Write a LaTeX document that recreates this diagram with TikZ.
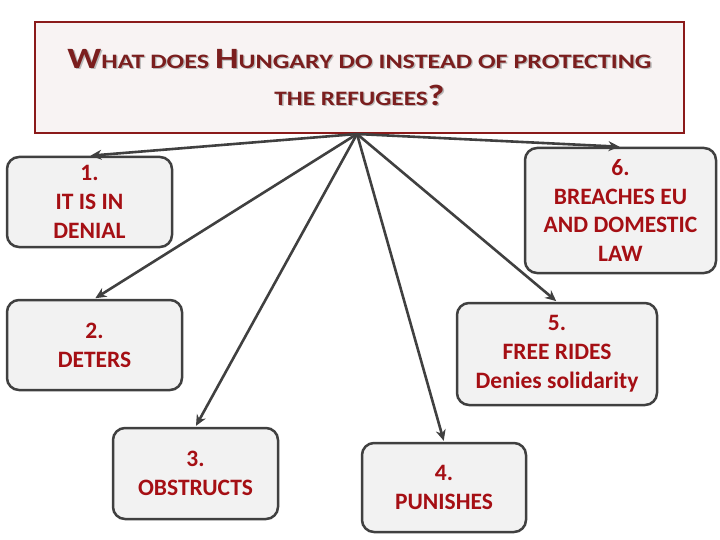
\documentclass[tikz,border=0pt]{standalone}
\usepackage{fontspec}
\setmainfont{Carlito}
\usetikzlibrary{arrows.meta}
\definecolor{boxtext}{HTML}{A50F14}
\definecolor{titletext}{HTML}{7B1E1E}
\definecolor{titleborder}{HTML}{8B1A1A}
\definecolor{titlefill}{HTML}{F8F3F3}
\definecolor{boxfill}{HTML}{F2F2F2}
\definecolor{boxline}{HTML}{404040}
\newcommand{\BigCap}[1]{{\fontsize{29.5}{37}\selectfont #1}}
\newcommand{\SmCap}[1]{{\fontsize{20.5}{37}\selectfont #1}}
\newcommand{\TitleText}{\scalebox{1.27}[1]{\BigCap{W}\SmCap{HAT DOES} \BigCap{H}\SmCap{UNGARY DO INSTEAD OF PROTECTING}}\\ \scalebox{1.23}[1]{\SmCap{THE REFUGEES}\BigCap{?}}}
\tikzset{
  x=1pt,y=1pt,
  itembox/.style={draw=boxline, line width=2.5pt, fill=boxfill, rounded corners=12pt,
    align=center, text=boxtext, font=\fontsize{23.5}{28.8}\selectfont\bfseries, inner sep=0pt},
  conn/.style={draw=boxline, line width=2.6pt, -{Stealth[length=11pt,width=10pt]}, shorten >=1pt},
  titletxt/.style={align=center, inner sep=0pt, font=\bfseries\fontsize{20.5}{37}\selectfont}
}
\begin{document}
\begin{tikzpicture}
\useasboundingbox (0,0) rectangle (720,-540);
\node[draw=titleborder, line width=1.5pt, fill=titlefill, minimum width=649pt, minimum height=111pt, inner sep=0pt] (title) at (359.5,-77.5) {};
\node[titletxt, text=gray!55] at (360.8,-78.8) {\TitleText};
\node[titletxt, text=titletext] (ttext) at (359.5,-77.5) {\TitleText};
\coordinate (src) at (357,-134);
\node[itembox, minimum width=165pt, minimum height=90pt] (b1) at (89.5,-202) {1.\\IT IS IN\\DENIAL};
\node[itembox, minimum width=191pt, minimum height=125pt] (b6) at (620.5,-210.5) {6.\\BREACHES EU\\AND DOMESTIC\\LAW};
\node[itembox, minimum width=175pt, minimum height=90pt] (b2) at (94.5,-345) {2.\\DETERS};
\node[itembox, minimum width=200pt, minimum height=102pt] (b5) at (557,-354) {5.\\FREE RIDES\\Denies solidarity};
\node[itembox, minimum width=165pt, minimum height=91pt] (b3) at (195.5,-473.5) {3.\\OBSTRUCTS};
\node[itembox, minimum width=164pt, minimum height=89pt] (b4) at (444,-487.5) {4.\\PUNISHES};
\foreach \b in {b1,b6,b2,b5,b3,b4} \draw[conn] (src) -- (\b.north);
\end{tikzpicture}
\end{document}
